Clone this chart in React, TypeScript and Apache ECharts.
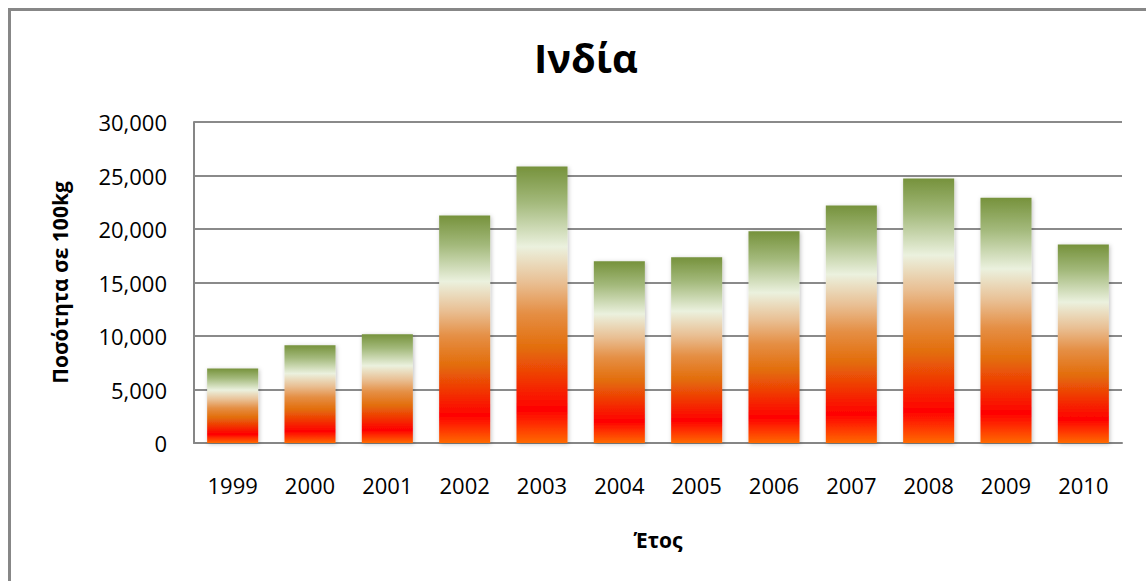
import React, { useEffect, useRef } from "react";
import * as echarts from "echarts";

const years = ["1999", "2000", "2001", "2002", "2003", "2004", "2005", "2006", "2007", "2008", "2009", "2010"];
const quantities = [6970, 9140, 10170, 21270, 25840, 16980, 17350, 19780, 22200, 24720, 22920, 18540];
const titleText = "Ινδία";
const yAxisName = "Ποσότητα σε 100kg";
const xAxisName = "Έτος";

const FONT = "'Open Sans', 'Noto Sans', sans-serif";

export default function App() {
  const ref = useRef<HTMLDivElement>(null);
  useEffect(() => {
    if (!ref.current) return;
    const chart = echarts.init(ref.current, null, { renderer: "svg" });
    const barGradient = new echarts.graphic.LinearGradient(0, 0, 0, 1, [
      { offset: 0, color: "#76923c" },
      { offset: 0.13, color: "#a3b97b" },
      { offset: 0.29, color: "#ebf1de" },
      { offset: 0.42, color: "#e9bf93" },
      { offset: 0.53, color: "#e58f45" },
      { offset: 0.66, color: "#e36c09" },
      { offset: 0.88, color: "#ff0000" },
      { offset: 1, color: "#ff6a00" },
    ]);
    chart.setOption({
      animation: false,
      backgroundColor: "#ffffff",
      graphic: [
        {
          type: "rect",
          shape: { x: 9.5, y: 9.5, width: 1300, height: 800 },
          style: { fill: "none", stroke: "#878787", lineWidth: 3 },
          silent: true,
          z: 100,
        },
      ],
      title: {
        text: titleText,
        left: 581,
        textAlign: "center",
        top: 32,
        textStyle: { fontFamily: FONT, fontWeight: "bold", fontSize: 40, color: "#000" },
      },
      grid: { left: 194, right: 24, top: 122, bottom: 138, containLabel: false },
      xAxis: {
        type: "category",
        data: years,
        name: xAxisName,
        nameLocation: "middle",
        nameGap: 86,
        nameTextStyle: { fontFamily: FONT, fontWeight: "bold", fontSize: 21, color: "#000" },
        axisLine: { show: true, lineStyle: { color: "#868686", width: 2 } },
        axisTick: { show: false },
        axisLabel: { fontFamily: FONT, fontSize: 22, color: "#000", margin: 31 },
      },
      yAxis: {
        type: "value",
        min: 0,
        max: 30000,
        interval: 5000,
        name: yAxisName,
        nameLocation: "middle",
        nameGap: 124,
        nameTextStyle: { fontFamily: FONT, fontWeight: "bold", fontSize: 21, color: "#000" },
        axisLine: { show: true, lineStyle: { color: "#868686", width: 2 } },
        axisTick: { show: false },
        splitLine: { show: true, lineStyle: { color: "#8a8a8a", width: 2 } },
        axisLabel: {
          fontFamily: FONT,
          fontSize: 22,
          color: "#000",
          margin: 27,
          formatter: (v: number) => v.toLocaleString("en-US"),
        },
      },
      series: [
        {
          type: "bar",
          data: quantities,
          barCategoryGap: "34%",
          itemStyle: {
            color: barGradient,
            shadowBlur: 4,
            shadowColor: "rgba(0,0,0,0.25)",
            shadowOffsetX: 1,
            shadowOffsetY: 1,
          },
        },
      ],
    });
    return () => chart.dispose();
  }, []);
  return (
    <div
      ref={ref}
      style={{ position: "fixed", left: 0, top: 0, width: 1146, height: 581, background: "#fff" }}
    />
  );
}
